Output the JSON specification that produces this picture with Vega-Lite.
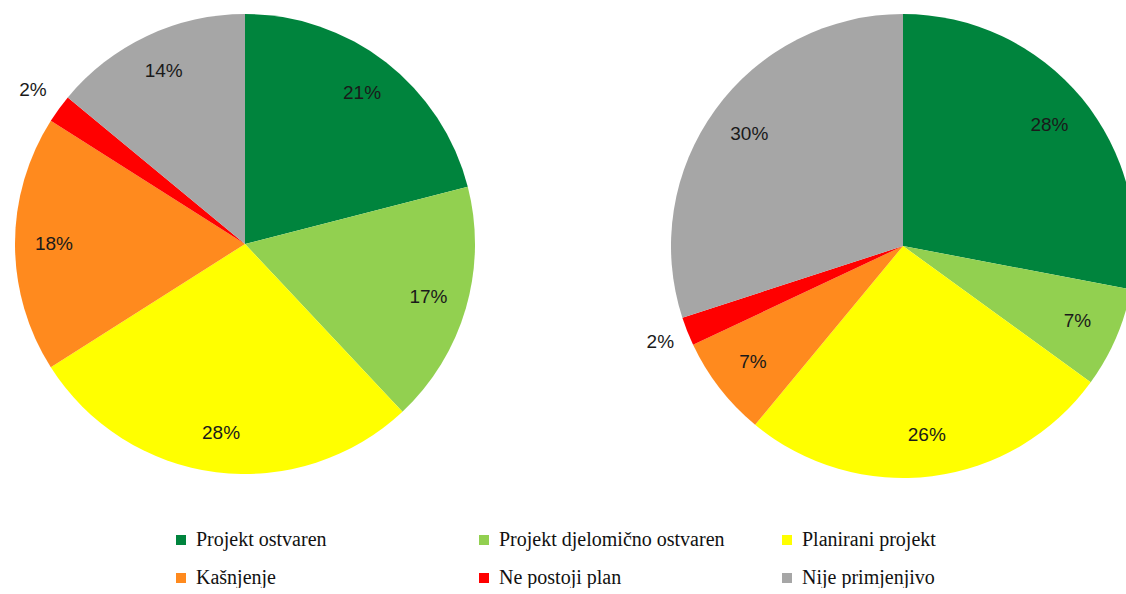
{
  "$schema": "https://vega.github.io/schema/vega-lite/v6.json",
  "padding": 0,
  "spacing": 156,
  "background": "white",
  "resolve": {"scale": {"color": "shared"}, "legend": {"color": "shared"}},
  "hconcat": [
    {
      "width": 490,
      "height": 488,
      "data": {"values": [
        {"k": "Projekt ostvaren", "v": 21},
        {"k": "Projekt djelomično ostvaren", "v": 17},
        {"k": "Planirani projekt", "v": 28},
        {"k": "Kašnjenje", "v": 18},
        {"k": "Ne postoji plan", "v": 2},
        {"k": "Nije primjenjivo", "v": 14}
      ]},
      "transform": [
        {"calculate": "indexof(['Projekt ostvaren','Projekt djelomično ostvaren','Planirani projekt','Kašnjenje','Ne postoji plan','Nije primjenjivo'], datum.k)", "as": "o"},
        {"calculate": "datum.v + '%'", "as": "lbl"}
      ],
      "encoding": {
        "theta": {"field": "v", "type": "quantitative", "stack": true},
        "order": {"field": "o", "type": "quantitative"},
        "color": {
          "field": "k", "type": "nominal",
          "scale": {
            "domain": ["Projekt ostvaren", "Projekt djelomično ostvaren", "Planirani projekt", "Kašnjenje", "Ne postoji plan", "Nije primjenjivo"],
            "range": ["#00843D", "#92D050", "#FFFF00", "#FF8A1E", "#FF0000", "#A6A6A6"]
          },
          "legend": {
            "title": null,
            "orient": "none",
            "legendX": 171,
            "legendY": 530,
            "direction": "horizontal",
            "columns": 3,
            "gridAlign": "all",
            "columnPadding": 52,
            "rowPadding": 18,
            "symbolType": "square",
            "symbolSize": 100,
            "symbolStrokeWidth": 0,
            "labelFont": "Liberation Serif",
            "labelFontSize": 20,
            "labelColor": "#111111",
            "labelOffset": 5,
            "labelLimit": 400,
            "padding": 0
          }
        }
      },
      "layer": [
        {"mark": {"type": "arc", "outerRadius": 230}},
        {
          "mark": {"type": "text", "radius": {"expr": "datum.v < 3 ? 262 : 191"}, "font": "Liberation Sans", "fontSize": 19, "color": "#1a1a1a"},
          "encoding": {"text": {"field": "lbl", "type": "nominal"}, "color": {"value": "#1a1a1a"}}
        }
      ]
    },
    {
      "width": 448,
      "height": 492,
      "data": {"values": [
        {"k": "Projekt ostvaren", "v": 28},
        {"k": "Projekt djelomično ostvaren", "v": 7},
        {"k": "Planirani projekt", "v": 26},
        {"k": "Kašnjenje", "v": 7},
        {"k": "Ne postoji plan", "v": 2},
        {"k": "Nije primjenjivo", "v": 30}
      ]},
      "transform": [
        {"calculate": "indexof(['Projekt ostvaren','Projekt djelomično ostvaren','Planirani projekt','Kašnjenje','Ne postoji plan','Nije primjenjivo'], datum.k)", "as": "o"},
        {"calculate": "datum.v + '%'", "as": "lbl"}
      ],
      "encoding": {
        "theta": {"field": "v", "type": "quantitative", "stack": true},
        "order": {"field": "o", "type": "quantitative"},
        "color": {"field": "k", "type": "nominal"}
      },
      "layer": [
        {"mark": {"type": "arc", "outerRadius": 232}},
        {
          "mark": {"type": "text", "radius": {"expr": "datum.v < 3 ? 261 : 190"}, "font": "Liberation Sans", "fontSize": 19, "color": "#1a1a1a"},
          "encoding": {"text": {"field": "lbl", "type": "nominal"}, "color": {"value": "#1a1a1a"}}
        }
      ]
    }
  ],
  "config": {
    "view": {"stroke": null}
  }
}
